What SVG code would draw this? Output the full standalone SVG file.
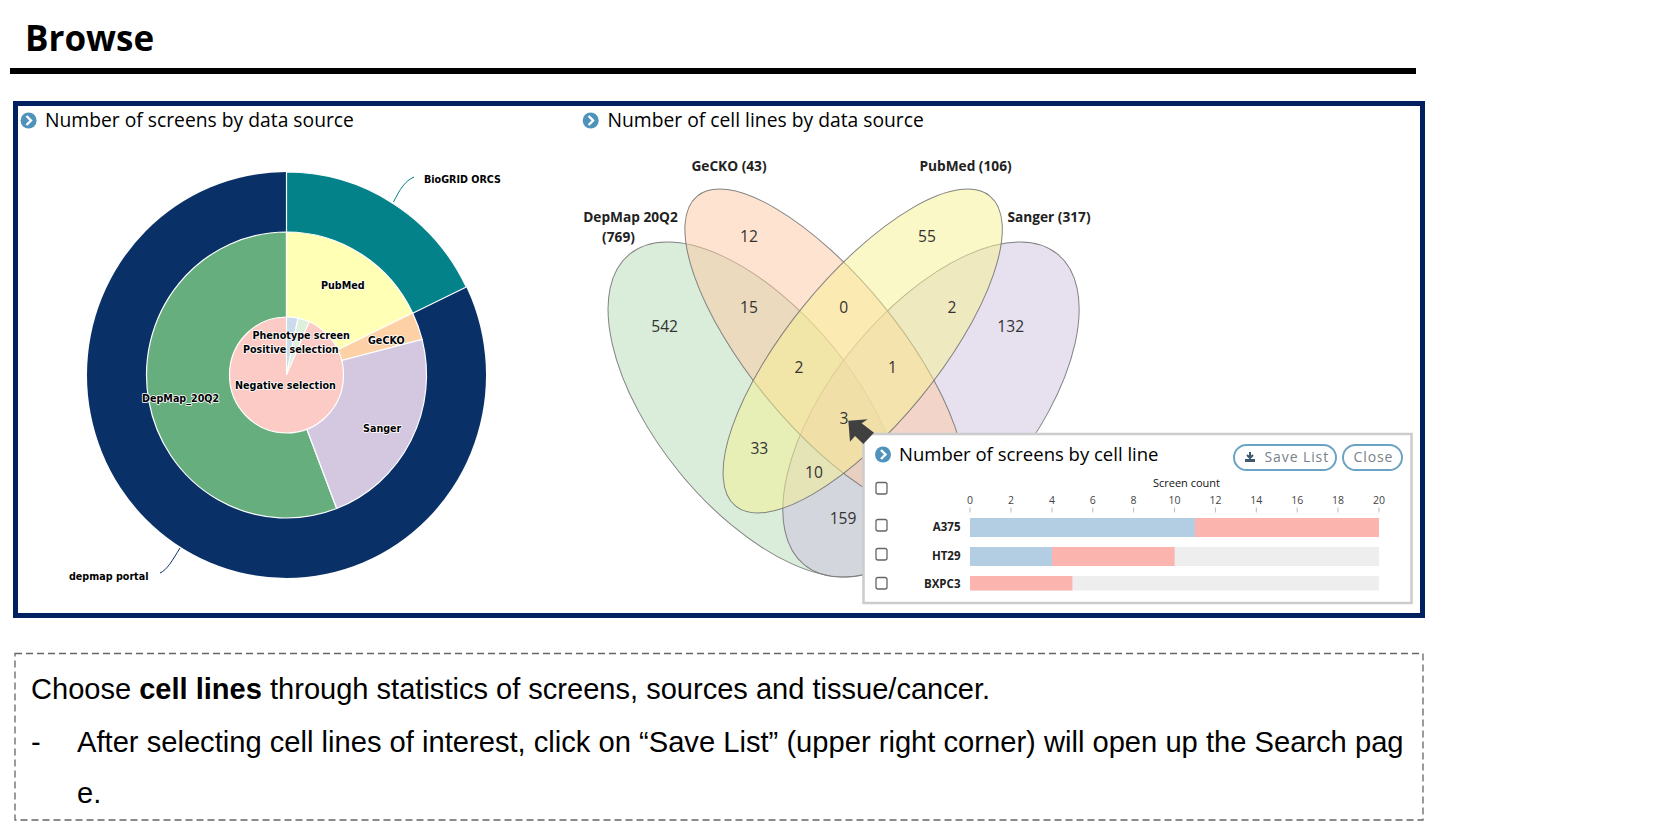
<svg xmlns="http://www.w3.org/2000/svg" width="1665" height="829" viewBox="0 0 1665 829">
<style>
text{font-family:"Open Sans","Noto Sans","Liberation Sans",sans-serif;fill:#111}
.h{font-size:19.3px;fill:#000}
.pl{font-family:"DejaVu Sans",sans-serif;font-size:9.6px;font-weight:bold;fill:#000;stroke:#fff;stroke-width:1.6px;paint-order:stroke;stroke-linejoin:round}
.vl{font-size:13.7px;font-weight:700;text-anchor:middle;fill:#222}
.vn{font-size:15.6px;text-anchor:middle;fill:#333}
.vs{stroke:#777;stroke-width:1;fill-opacity:.5;stroke-opacity:.9}
.icon{fill:#4f93bd}
.chev{fill:none;stroke:#fff;stroke-width:2.4}
.cb{fill:#fff;stroke:#666;stroke-width:1.3}
.tk{font-size:10.5px;text-anchor:middle;fill:#444}
.tl{stroke:#bbb;stroke-width:1}
.bl{font-size:11.5px;font-weight:700;text-anchor:end;fill:#222}
.btn{fill:#fff;stroke:#6ba3c4;stroke-width:2}
.bt{font-size:14px;fill:#77828a;letter-spacing:.9px}
.body{font-family:"Liberation Sans",Arial,sans-serif;font-size:29.05px;fill:#000}
.blue{fill:#b3cde3}.pink{fill:#fbb4ae}.gray{fill:#eee}
.sl{stroke:#fff;stroke-width:1.2}
</style>
<rect width="1665" height="829" fill="#fff"/>
<g id="header">
<text x="25" y="51" style="font-size:35px;font-weight:700;fill:#000">Browse</text>
<rect x="10" y="68" width="1406" height="6" fill="#000"/>
</g>
<rect id="frame" x="15.5" y="103.5" width="1407" height="512" fill="#fff" stroke="#002060" stroke-width="5"/>
<g id="title-screens">
<circle class="icon" cx="28.6" cy="120.5" r="8"/><path class="chev" d="M26.5 116l4.5 4.5-4.5 4.5"/>
<text class="h" x="45" y="127">Number of screens by data source</text>
</g>
<g id="title-celllines">
<circle class="icon" cx="590.7" cy="120.5" r="8"/><path class="chev" d="M588.6 116l4.5 4.5-4.5 4.5"/>
<text class="h" x="607.5" y="127">Number of cell lines by data source</text>
</g>
<g id="connectors" fill="none" stroke-width="1">
<path d="M393.5 202C400 189 405 181 414 177" stroke="#008289"/>
<path d="M180 548C172 561 167 570 160 573" stroke="#0a3068"/>
</g>
<g id="donut">
<g id="ring-outer">
<ellipse cx="286.5" cy="375" rx="199.5" ry="203" fill="#0a3068"/>
<path class="sl" fill="#03828a" d="M286.5 375V172A199.5 203 0 0 1 466.3 287Z"/>
</g>
<g id="ring-middle">
<path class="sl" fill="#66ae7e" d="M286.5 375L336.7 508.5A140 143 0 1 1 286.5 232Z"/>
<path class="sl" fill="#ffffb5" d="M286.5 375V232A140 143 0 0 1 412.6 313Z"/>
<path class="sl" fill="#fdd0a5" d="M286.5 375L412.6 313A140 143 0 0 1 422.1 339.4Z"/>
<path class="sl" fill="#d4c7e0" d="M286.5 375L422.1 339.4A140 143 0 0 1 336.7 508.5Z"/>
</g>
<g id="ring-inner">
<ellipse cx="286.5" cy="375" rx="57" ry="58" fill="#fccbc5" stroke="#fff" stroke-width="1.2"/>
<path class="sl" fill="#c9dbec" d="M286.5 375V317A57 58 0 0 1 298 318.2Z"/>
<path class="sl" fill="#dcf0dc" d="M286.5 375L298 318.2A57 58 0 0 1 309.1 321.8Z"/>
</g>
<g id="donut-labels">
<text class="pl" x="424" y="183">BioGRID ORCS</text>
<text class="pl" x="321" y="289">PubMed</text>
<text class="pl" x="252.5" y="339">Phenotype screen</text>
<text class="pl" x="243" y="353">Positive selection</text>
<text class="pl" x="368" y="344">GeCKO</text>
<text class="pl" x="235" y="389">Negative selection</text>
<text class="pl" x="142" y="402">DepMap_20Q2</text>
<text class="pl" x="363" y="432">Sanger</text>
<text class="pl" x="69" y="580">depmap portal</text>
</g>
</g>
<g id="venn">
<ellipse class="vs" fill="#b3dbb5" cx="756.2" cy="409.5" rx="99.2" ry="200.4" transform="rotate(-39.2 756.2 409.5)"/>
<ellipse class="vs" fill="#cdc1df" cx="931" cy="409.5" rx="99.2" ry="200.4" transform="rotate(39.2 931 409.5)"/>
<ellipse class="vs" fill="#fdc7a1" cx="824.5" cy="351" rx="74.3" ry="200.5" transform="rotate(-39.4 824.5 351)"/>
<ellipse class="vs" fill="#f7f191" cx="862.7" cy="351" rx="74.3" ry="200.5" transform="rotate(39.4 862.7 351)"/>
<text class="vl" x="729" y="171">GeCKO (43)</text>
<text class="vl" x="965.5" y="171">PubMed (106)</text>
<text class="vl" x="630.5" y="222">DepMap 20Q2</text>
<text class="vl" x="618.5" y="242">(769)</text>
<text class="vl" x="1049" y="222">Sanger (317)</text>
<text class="vn" x="749" y="242">12</text>
<text class="vn" x="927" y="242">55</text>
<text class="vn" x="749" y="313">15</text>
<text class="vn" x="843.6" y="313">0</text>
<text class="vn" x="952" y="313">2</text>
<text class="vn" x="664.6" y="332">542</text>
<text class="vn" x="1010.7" y="332">132</text>
<text class="vn" x="799" y="373">2</text>
<text class="vn" x="892.5" y="373">1</text>
<text class="vn" x="844" y="424">3</text>
<text class="vn" x="759.3" y="453.5">33</text>
<text class="vn" x="814" y="478">10</text>
<text class="vn" x="843" y="524">159</text>
</g>
<g id="popup">
<rect x="863.5" y="434" width="548" height="169" fill="#fff" stroke="#ccc" stroke-width="2.5"/>
<circle class="icon" cx="883" cy="454.5" r="8"/><path class="chev" d="M881 450l4.5 4.5-4.5 4.5"/>
<text x="899" y="461" style="font-size:18.5px;fill:#000">Number of screens by cell line</text>
<g id="btn-save">
<rect class="btn" x="1234" y="445" width="102" height="25" rx="12.5"/>
<path d="M1250 452v5M1247 455l3 3 3-3" fill="none" stroke="#3f5a6e" stroke-width="2"/>
<path d="M1245 459h10v3h-10z" fill="#3f5a6e"/>
<text class="bt" x="1264.5" y="462">Save List</text>
</g>
<g id="btn-close">
<rect class="btn" x="1343" y="445" width="59" height="25" rx="12.5"/>
<text class="bt" x="1353.5" y="462">Close</text>
</g>
<rect class="cb" x="876" y="482.5" width="11" height="11.5" rx="2"/>
<rect class="cb" x="876" y="519.5" width="11" height="11.5" rx="2"/>
<rect class="cb" x="876" y="548.5" width="11" height="11.5" rx="2"/>
<rect class="cb" x="876" y="577.5" width="11" height="11.5" rx="2"/>
<text x="1186.5" y="487" text-anchor="middle" fill="#333" style="font-size:11px">Screen count</text>
<g id="axis">
<text class="tk" x="970" y="504">0</text><text class="tk" x="1011" y="504">2</text><text class="tk" x="1052" y="504">4</text><text class="tk" x="1092.8" y="504">6</text><text class="tk" x="1133.6" y="504">8</text><text class="tk" x="1174.5" y="504">10</text><text class="tk" x="1215.4" y="504">12</text><text class="tk" x="1256.3" y="504">14</text><text class="tk" x="1297.2" y="504">16</text><text class="tk" x="1338" y="504">18</text><text class="tk" x="1379" y="504">20</text>
<path class="tl" d="M970 507.5v5M1011 507.5v5M1052 507.5v5M1092.8 507.5v5M1133.6 507.5v5M1174.5 507.5v5M1215.4 507.5v5M1256.3 507.5v5M1297.2 507.5v5M1338 507.5v5M1379 507.5v5"/>
</g>
<text class="bl" x="960.5" y="531">A375</text>
<text class="bl" x="960.5" y="560">HT29</text>
<text class="bl" x="960.5" y="588">BXPC3</text>
<rect class="blue" x="970" y="518" width="225" height="19"/><rect class="pink" x="1195" y="518" width="184" height="19"/>
<rect class="gray" x="970" y="547" width="409" height="19"/><rect class="blue" x="970" y="547" width="82" height="19"/><rect class="pink" x="1052" y="547" width="122.6" height="19"/>
<rect class="gray" x="970" y="576" width="409" height="14.5"/><rect class="pink" x="970" y="576" width="102.4" height="14.5"/>
</g>
<path id="pointer" fill="#404040" d="M848.3 420.7L867.7 419.3 861.7 423.3 874 432.7 863.3 444 855 436 850 441.7Z"/>
<g id="note">
<rect x="15" y="653.5" width="1408" height="166.5" fill="#fff" stroke="#666" stroke-width="1.3" stroke-dasharray="7 4"/>
<text class="body" x="31" y="698.5">Choose <tspan font-weight="700">cell lines</tspan> through statistics of screens, sources and tissue/cancer.</text>
<text class="body" x="31" y="752">-</text>
<text class="body" x="77" y="752" style="font-size:29.15px">After selecting cell lines of interest, click on “Save List” (upper right corner) will open up the Search pag</text>
<text class="body" x="77" y="803">e.</text>
</g>
</svg>
